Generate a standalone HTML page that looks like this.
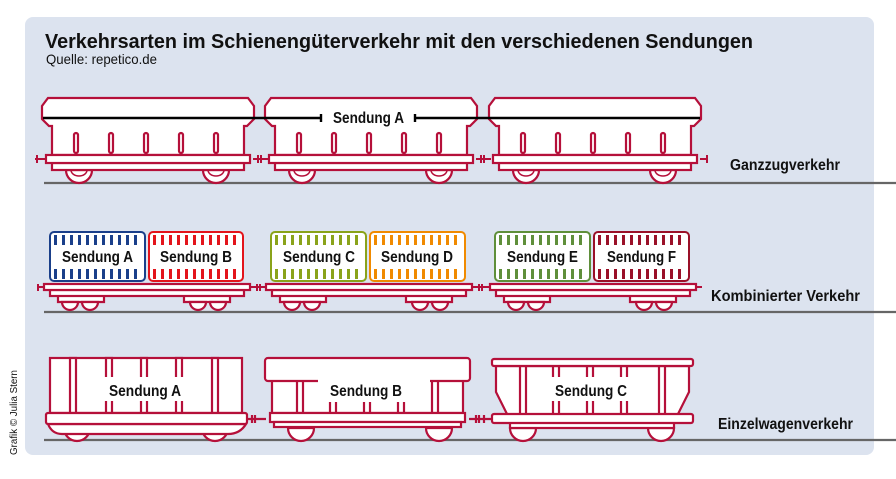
<!DOCTYPE html>
<html><head><meta charset="utf-8"><style>
html,body{margin:0;padding:0;background:#fff;width:896px;height:479px;overflow:hidden}
svg{display:block}
text{font-family:"Liberation Sans Narrow","Liberation Sans",sans-serif;font-weight:bold;fill:#111}
</style></head><body>
<svg width="896" height="479" viewBox="0 0 896 479" xmlns="http://www.w3.org/2000/svg">
<defs>
<g id="car1" fill="#fff" stroke="#b5103a" stroke-width="2.2">
  <path d="M6,0 H206 L212,8 V21 L205,28 H202 V57 H10 V28 H7 L0,21 V8 Z"/>
  <rect x="32" y="35" width="4" height="20" rx="2"/><rect x="67" y="35" width="4" height="20" rx="2"/>
  <rect x="102" y="35" width="4" height="20" rx="2"/><rect x="137" y="35" width="4" height="20" rx="2"/>
  <rect x="172" y="35" width="4" height="20" rx="2"/>
  <path d="M24,72 A13,13 0 0 0 50,72 Z M161,72 A13,13 0 0 0 187,72 Z"/>
  <path d="M29,72 A8,6 0 0 0 45,72 M166,72 A8,6 0 0 0 182,72" fill="none" stroke-width="1.5"/>
  <rect x="10" y="65" width="192" height="7"/>
  <rect x="4" y="57" width="204" height="8"/>
</g>
<g id="flat" fill="#fff" stroke="#b5103a" stroke-width="2.2">
  <path d="M14,13 V19 H60 V13 M140,13 V19 H186 V13"/>
  <path d="M18,19 A8,8 0 0 0 34,19 Z M38,19 A8,8 0 0 0 54,19 Z M146,19 A8,8 0 0 0 162,19 Z M166,19 A8,8 0 0 0 182,19 Z"/>
  <rect x="6" y="7" width="194" height="6"/>
  <rect x="0" y="1" width="206" height="6"/>
</g>
</defs>
<rect x="25" y="17" width="849" height="438" rx="8" fill="#dce3ef"/>
<text x="45" y="48" font-size="20" textLength="708" lengthAdjust="spacingAndGlyphs" style="font-family:'Liberation Sans',sans-serif">Verkehrsarten im Schienengüterverkehr mit den verschiedenen Sendungen</text>
<text x="46" y="64" font-size="14" textLength="111" lengthAdjust="spacingAndGlyphs" style="font-weight:normal">Quelle: repetico.de</text>
<text transform="translate(17,455) rotate(-90)" font-size="10" textLength="85" lengthAdjust="spacingAndGlyphs" style="font-weight:normal">Grafik © Julia Stern</text>

<g stroke="#666" stroke-width="2.2">
<line x1="44" y1="183" x2="896" y2="183"/><line x1="44" y1="312" x2="896" y2="312"/><line x1="44" y1="440" x2="896" y2="440"/>
</g>

<g stroke="#b5103a" stroke-width="2" fill="#fff">
<path d="M35,159 H46 M37,155 V163 M253,159 H268 M258,155 V163 M261,155 V163 M476,159 H491 M481,155 V163 M484,155 V163 M700,159 H708 M707,155 V163"/>
</g>
<use href="#car1" x="42" y="98"/>
<use href="#car1" x="265" y="98"/>
<use href="#car1" x="489" y="98"/>
<g stroke="#000" stroke-width="2.4"><line x1="43" y1="118" x2="321" y2="118"/><line x1="415" y1="118" x2="700" y2="118"/>
<line x1="321" y1="114" x2="321" y2="122"/><line x1="415" y1="114" x2="415" y2="122"/></g>
<text x="333" y="123" font-size="16" textLength="71" lengthAdjust="spacingAndGlyphs">Sendung A</text>
<text x="730" y="170" font-size="16" textLength="110" lengthAdjust="spacingAndGlyphs">Ganzzugverkehr</text>

<g stroke="#b5103a" stroke-width="2" fill="none">
<path d="M37,287 H44 M38,284 V291 M250,287 H267 M257,284 V291 M260,284 V291 M472,287 H490 M479,284 V291 M482,284 V291 M696,287 H702"/>
</g>
<use href="#flat" x="44" y="283"/>
<use href="#flat" x="266" y="283"/>
<use href="#flat" x="490" y="283"/>
<g stroke-width="2" fill="#fff">
<g stroke="#1a3f8a"><rect x="50" y="232" width="95" height="49" rx="4"/><path d="M54,240 H141 M54,274 H141" stroke-width="10" stroke-dasharray="3 5"/></g>
<g stroke="#e3141b"><rect x="149" y="232" width="94" height="49" rx="4"/><path d="M153,240 H239 M153,274 H239" stroke-width="10" stroke-dasharray="3 5"/></g>
<g stroke="#8aa31a"><rect x="271" y="232" width="95" height="49" rx="4"/><path d="M275,240 H362 M275,274 H362" stroke-width="10" stroke-dasharray="3 5"/></g>
<g stroke="#f08a00"><rect x="370" y="232" width="95" height="49" rx="4"/><path d="M374,240 H461 M374,274 H461" stroke-width="10" stroke-dasharray="3 5"/></g>
<g stroke="#5f8f3a"><rect x="495" y="232" width="95" height="49" rx="4"/><path d="M499,240 H586 M499,274 H586" stroke-width="10" stroke-dasharray="3 5"/></g>
<g stroke="#9a1028"><rect x="594" y="232" width="95" height="49" rx="4"/><path d="M598,240 H685 M598,274 H685" stroke-width="10" stroke-dasharray="3 5"/></g>
</g>
<g fill="#fff"><rect x="56" y="246" width="84" height="21"/><rect x="155" y="246" width="84" height="21"/><rect x="277" y="246" width="84" height="21"/><rect x="376" y="246" width="84" height="21"/><rect x="501" y="246" width="84" height="21"/><rect x="600" y="246" width="84" height="21"/></g>
<g font-size="16">
<text x="62" y="262" textLength="71" lengthAdjust="spacingAndGlyphs">Sendung A</text>
<text x="160" y="262" textLength="72" lengthAdjust="spacingAndGlyphs">Sendung B</text>
<text x="283" y="262" textLength="72" lengthAdjust="spacingAndGlyphs">Sendung C</text>
<text x="381" y="262" textLength="72" lengthAdjust="spacingAndGlyphs">Sendung D</text>
<text x="507" y="262" textLength="71" lengthAdjust="spacingAndGlyphs">Sendung E</text>
<text x="607" y="262" textLength="69" lengthAdjust="spacingAndGlyphs">Sendung F</text>
</g>
<text x="711" y="301" font-size="16" textLength="149" lengthAdjust="spacingAndGlyphs">Kombinierter Verkehr</text>

<g stroke="#b5103a" stroke-width="2.2" fill="#fff">
<path d="M244,419 H266 M252,415 V423 M255,415 V423 M469,419 H492 M476,415 V423 M479,415 V423 M482,419 H492 M484,415 V423"/>
<path d="M64,428 A13,13 0 0 0 90,428 Z M202,428 A13,13 0 0 0 228,428 Z"/>
<path d="M48,424 Q52,434 62,434 H228 Q240,434 246,424 Z"/>
<rect x="50" y="358" width="192" height="55"/>
<rect x="70" y="358" width="6" height="55"/><rect x="212" y="358" width="6" height="55"/>
<rect x="106" y="358" width="6" height="55"/><rect x="141" y="358" width="6" height="55"/><rect x="176" y="358" width="6" height="55"/>
<rect x="46" y="413" width="201" height="11" rx="2"/>
<path d="M288,428 A13,13 0 0 0 314,428 Z M426,428 A13,13 0 0 0 452,428 Z"/>
<rect x="272" y="380" width="191" height="33"/>
<rect x="297" y="380" width="6" height="33"/><rect x="432" y="380" width="6" height="33"/>
<rect x="330" y="380" width="6" height="33"/><rect x="364" y="380" width="6" height="33"/><rect x="398" y="380" width="6" height="33"/>
<rect x="265" y="358" width="205" height="23" rx="3"/>
<rect x="270" y="413" width="195" height="9"/>
<rect x="274" y="422" width="187" height="5"/>
<path d="M510,428 A13,13 0 0 0 536,428 Z M648,428 A13,13 0 0 0 674,428 Z"/>
<rect x="510" y="421" width="164" height="7"/>
<path d="M496,366 H689 V392 L677,416 H508 L496,392 Z"/>
<rect x="520" y="366" width="6" height="50"/><rect x="659" y="366" width="6" height="50"/>
<rect x="553" y="366" width="6" height="50"/><rect x="587" y="366" width="6" height="50"/><rect x="621" y="366" width="6" height="50"/>
<rect x="492" y="359" width="201" height="7" rx="2"/>
<rect x="492" y="414" width="201" height="9" rx="2"/>
</g>
<g fill="#fff"><rect x="88" y="377" width="120" height="24"/><rect x="318" y="378" width="112" height="24"/><rect x="538" y="377" width="110" height="24"/></g>
<g font-size="16">
<text x="109" y="396" textLength="72" lengthAdjust="spacingAndGlyphs">Sendung A</text>
<text x="330" y="396" textLength="72" lengthAdjust="spacingAndGlyphs">Sendung B</text>
<text x="555" y="396" textLength="72" lengthAdjust="spacingAndGlyphs">Sendung C</text>
</g>
<text x="718" y="429" font-size="16" textLength="135" lengthAdjust="spacingAndGlyphs">Einzelwagenverkehr</text>
</svg>
</body></html>
